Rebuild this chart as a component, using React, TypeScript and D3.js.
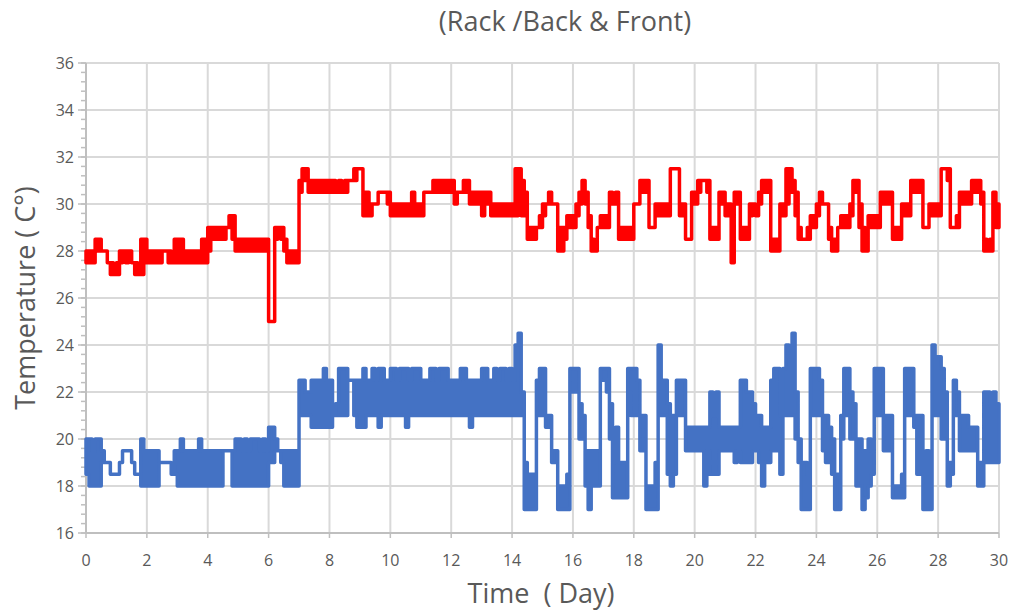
import React from 'react';
import * as d3 from 'd3';

// Logger readings are summarised per interval of DAY_STEP days:
// each entry is [lowest, highest] temperature (°C) seen in that interval.
const DAY_STEP = 0.1;

// Rack back, one row per day (10 intervals per day)
const rackBack: [number, number][] = [
  [27.5, 28], [27.5, 28], [27.5, 28], [28, 28.5], [28, 28.5], [28, 28], [28, 28], [27.5, 27.5], [27, 27.5], [27, 27],
  [27, 27.5], [27.5, 28], [28, 28], [27.5, 28], [28, 28], [27.5, 27.5], [27, 27.5], [27, 27], [27, 28.5], [28, 28.5],
  [27.5, 28], [27.5, 28], [27.5, 28], [27.5, 28], [27.5, 28], [28, 28], [28, 28], [27.5, 28], [27.5, 27.5], [27.5, 28.5],
  [27.5, 28.5], [27.5, 28.5], [27.5, 28], [27.5, 28], [27.5, 28], [27.5, 28], [27.5, 28], [27.5, 28], [27.5, 28.5], [27.5, 28.5],
  [28, 29], [28.5, 29], [28.5, 29], [28.5, 29], [28.5, 29], [28.5, 29], [29, 29], [29, 29.5], [28.5, 29.5], [28, 28.5],
  [28, 28.5], [28, 28.5], [28, 28.5], [28, 28.5], [28, 28.5], [28, 28.5], [28, 28.5], [28, 28.5], [28, 28.5], [28, 28.5],
  [25, 25], [25, 25], [28.5, 29], [29, 29], [28.5, 29], [28, 28.5], [27.5, 28], [27.5, 28], [27.5, 28], [27.5, 28],
  [30.5, 31], [31, 31.5], [31, 31.5], [30.5, 31], [30.5, 31], [30.5, 31], [30.5, 31], [30.5, 31], [30.5, 31], [30.5, 31],
  [30.5, 31], [30.5, 31], [30.5, 30.5], [30.5, 31], [30.5, 30.5], [30.5, 31], [31, 31], [31, 31], [31, 31.5], [31.5, 31.5],
  [31.5, 31.5], [29.5, 30.5], [29.5, 30.5], [29.5, 30], [30, 30], [30, 30], [30.5, 30.5], [30.5, 30.5], [30.5, 30.5], [30, 30.5],
  [29.5, 30], [29.5, 30], [29.5, 30], [29.5, 30], [29.5, 30], [29.5, 30], [29.5, 30], [29.5, 30.5], [29.5, 30], [29.5, 30],
  [29.5, 30], [30.5, 30.5], [30.5, 30.5], [30.5, 30.5], [30.5, 31], [30.5, 31], [30.5, 31], [30.5, 31], [30.5, 31], [30.5, 31],
  [30.5, 31], [30, 30.5], [30.5, 30.5], [30.5, 30.5], [30.5, 31], [30.5, 31], [30, 30.5], [30, 30.5], [30, 30.5], [30, 30.5],
  [29.5, 30.5], [30, 30.5], [30, 30.5], [29.5, 30], [29.5, 30], [29.5, 30], [29.5, 30], [29.5, 30], [29.5, 30], [29.5, 30],
  [29.5, 30], [29.5, 31.5], [30, 31.5], [29.5, 31], [30.5, 30.5], [28.5, 29], [28.5, 29], [28.5, 29], [29, 29], [29, 29.5],
  [29.5, 30], [30, 30], [30, 30.5], [30, 30], [30, 30], [28, 29], [28, 29], [28.5, 29], [29, 29.5], [29, 29.5],
  [29, 29.5], [29.5, 30], [30, 30.5], [30.5, 31], [30, 30.5], [29, 29.5], [28, 28.5], [28, 28], [29, 29], [29, 29.5],
  [29, 29.5], [29, 29.5], [30, 30.5], [30, 30], [30, 30.5], [28.5, 29], [28.5, 29], [28.5, 29], [28.5, 29], [28.5, 29],
  [30, 30], [30, 30], [30.5, 31], [30.5, 31], [30.5, 31], [29, 29], [29, 29], [29.5, 30], [29.5, 30], [29.5, 30],
  [29.5, 30], [29.5, 30], [31.5, 31.5], [31.5, 31.5], [31.5, 31.5], [29.5, 30], [29.5, 30], [28.5, 28.5], [28.5, 28.5], [30, 30.5],
  [30, 30.5], [30.5, 31], [31, 31], [31, 31], [30.5, 31], [28.5, 29], [28.5, 29], [28.5, 29], [30, 30.5], [30, 30.5],
  [29.5, 30], [29.5, 30], [27.5, 27.5], [30, 30.5], [30.5, 30.5], [28.5, 29], [28.5, 29], [28.5, 29], [29.5, 30], [30, 30],
  [29.5, 29.5], [30, 30.5], [30.5, 31], [30.5, 31], [30.5, 31], [28, 28.5], [28, 28.5], [28, 28.5], [29.5, 30], [29.5, 30],
  [30, 31.5], [31, 31.5], [30.5, 31], [29.5, 30.5], [28.5, 29], [28.5, 28.5], [28.5, 28.5], [28.5, 29], [29, 29.5], [29, 29.5],
  [29.5, 30], [30, 30.5], [30, 30], [30, 30], [28.5, 29], [28, 28.5], [28, 28.5], [29, 29], [29, 29.5], [29, 29.5],
  [29, 29.5], [29.5, 30], [30.5, 31], [30.5, 31], [29, 30], [28, 29], [28, 28.5], [29, 29.5], [29, 29.5], [29, 29.5],
  [29, 29.5], [30, 30.5], [30, 30.5], [30, 30.5], [30, 30.5], [28.5, 29], [28.5, 29], [28.5, 29], [29.5, 30], [29.5, 30],
  [29.5, 30], [30.5, 31], [30.5, 31], [30.5, 31], [30.5, 31], [29, 29], [29, 29], [29.5, 30], [29.5, 30], [29.5, 30],
  [29.5, 30], [31.5, 31.5], [31.5, 31.5], [31, 31.5], [29, 29], [29, 29], [29, 29.5], [30, 30.5], [30, 30.5], [30, 30.5],
  [30, 30.5], [30.5, 31], [30.5, 31], [30.5, 31], [30, 30.5], [28, 28.5], [28, 28], [28, 28.5], [29.5, 30.5], [29, 30],
  [29, 29],
];

// Rack front, same intervals
const rackFront: [number, number][] = [
  [18.5, 20], [18, 20], [18, 19.5], [18, 20], [18, 20], [19, 19.5], [19, 19], [19, 19], [18.5, 18.5], [18.5, 18.5],
  [18.5, 18.5], [19, 19], [19.5, 19.5], [19.5, 19.5], [19.5, 19.5], [19, 19], [18.5, 18.5], [18.5, 18.5], [18, 20], [18, 19.5],
  [18, 19.5], [18, 19.5], [18, 19.5], [18, 19.5], [19, 19], [19, 19], [19, 19], [19, 19], [18.5, 18.5], [18.5, 19.5],
  [18, 19.5], [18, 20], [18, 19.5], [18, 19.5], [18, 19.5], [18, 19.5], [18, 19.5], [18, 20], [18, 19.5], [18, 19.5],
  [18, 19.5], [18, 19.5], [18, 19.5], [18, 19.5], [18, 19.5], [19.5, 19.5], [19.5, 19.5], [19.5, 19.5], [18, 19.5], [18, 20],
  [18, 20], [18, 19.5], [18, 20], [18, 19.5], [18, 20], [18, 20], [18, 20], [18, 19.5], [18, 20], [18, 19.5],
  [19, 20.5], [19, 20.5], [19.5, 20], [19.5, 19.5], [19, 19.5], [18, 19.5], [18, 19.5], [18, 19.5], [18, 19.5], [18, 19.5],
  [21, 22.5], [21, 22.5], [21, 22], [21, 22], [20.5, 22.5], [20.5, 22.5], [20.5, 22.5], [20.5, 22.5], [20.5, 23], [20.5, 22.5],
  [20.5, 22.5], [21, 21], [21, 21.5], [21, 23], [21, 23], [21, 23], [22.5, 22.5], [22.5, 22.5], [21, 22.5], [20.5, 22.5],
  [20.5, 22.5], [20.5, 23], [21, 22.5], [21, 22.5], [21, 23], [21, 22.5], [20.5, 23], [21, 23], [21, 22.5], [21, 22.5],
  [21, 23], [21, 23], [21, 22.5], [21, 23], [21, 23], [20.5, 23], [21, 22.5], [21, 23], [21, 23], [21, 23],
  [21, 22.5], [21, 22.5], [21, 22.5], [21, 23], [21, 23], [21, 22.5], [21, 23], [21, 23], [21, 23], [21, 22.5],
  [21, 22.5], [21, 22.5], [21, 22.5], [21, 23], [21, 23], [21, 22.5], [20.5, 22.5], [21, 22.5], [21, 22.5], [21, 22.5],
  [21, 23], [21, 23], [21, 22.5], [21, 22.5], [21, 23], [21, 22.5], [21, 23], [21, 23], [21, 22.5], [21, 23],
  [21, 22.5], [21, 24], [21, 24.5], [21, 22], [17, 19], [17, 18.5], [17, 18.5], [17, 18.5], [21, 22.5], [21, 23],
  [21, 23], [20.5, 21], [20.5, 21], [19, 19.5], [19, 19.5], [17, 18], [17, 18], [17, 18], [17, 18.5], [22, 23],
  [22, 23], [22, 23], [20, 21.5], [20, 21], [18, 19.5], [17, 19.5], [18, 19.5], [18, 19.5], [18, 19.5], [22.5, 23],
  [22.5, 23], [22, 23], [20, 21.5], [17.5, 19], [17.5, 20.5], [17.5, 19], [17.5, 19], [17.5, 19], [22, 23], [21, 23],
  [21, 23], [21, 22.5], [19.5, 21], [19.5, 21], [17, 18], [17, 18], [17, 18], [17, 19], [21, 24], [21, 22.5],
  [21, 22.5], [18.5, 21.5], [18, 21], [18.5, 21], [21, 22.5], [21, 22.5], [21, 22.5], [19.5, 20.5], [19.5, 20.5], [19.5, 20.5],
  [19.5, 20.5], [19.5, 20.5], [19.5, 20.5], [18, 20.5], [19.5, 20.5], [18.5, 22], [18.5, 21], [18.5, 22], [19.5, 20.5], [19.5, 20.5],
  [19.5, 20.5], [19.5, 20.5], [19.5, 20.5], [19, 20.5], [19.5, 20.5], [19, 22.5], [19, 22.5], [19, 22], [19, 22], [19.5, 21.5],
  [19.5, 21], [19, 21], [18, 20.5], [19, 20.5], [19, 20.5], [19.5, 22.5], [19.5, 23], [19.5, 23], [18.5, 21], [21, 23],
  [21, 24], [21, 23.5], [21, 24.5], [20, 22], [19, 20], [17, 19], [17, 19], [17, 18.5], [21, 23], [21, 23],
  [21, 23], [21, 22.5], [19.5, 21], [19, 21], [19, 20.5], [18.5, 20], [17, 18.5], [17, 18.5], [20, 21], [21, 23],
  [21, 23], [20, 22], [20, 21.5], [18, 20], [18, 20], [17, 19.5], [17.5, 19.5], [18, 20], [18.5, 19.5], [21, 23],
  [21, 23], [21, 23], [19.5, 21], [19.5, 21], [19.5, 21], [17.5, 18], [17.5, 18], [17.5, 18], [17.5, 18.5], [21, 23],
  [21, 23], [21, 23], [20.5, 21], [18.5, 21], [20.5, 21], [17, 18.5], [17, 19.5], [17, 18.5], [21, 24], [21, 23.5],
  [21, 23.5], [20, 23], [20, 22], [18, 19], [18.5, 19], [21, 22.5], [21, 22], [19.5, 21], [19.5, 21], [19.5, 21],
  [19.5, 20.5], [19.5, 20.5], [19.5, 20.5], [18, 19], [18, 19], [19, 22], [19, 22], [19, 21.5], [19, 22], [19, 21.5],
  [19, 21],
];

const xTicks = [0, 2, 4, 6, 8, 10, 12, 14, 16, 18, 20, 22, 24, 26, 28, 30];
const yTicks = [16, 18, 20, 22, 24, 26, 28, 30, 32, 34, 36];

const FONT = "'Open Sans', 'Noto Sans', sans-serif";
const TEXT = '#595959';
const GRID = '#d9d9d9';
const AXIS = '#bfbfbf';

export default function App() {
  const width = 1014;
  const height = 615;

  const x = d3.scaleLinear().domain([0, 30]).range([86, 999]);
  const y = d3.scaleLinear().domain([16, 36]).range([533, 63]);

  // Each interval is drawn as a band from its lowest to highest reading;
  // intervals with a single reading collapse to a plain stepped line.
  const band = d3
    .area<[number, number]>()
    .x((_, i) => x(i * DAY_STEP))
    .y0((d) => y(d[0]))
    .y1((d) => y(d[1]))
    .curve(d3.curveStepAfter);

  const minorY = d3.range(16, 36.001, 0.4);

  const [x0, x1] = x.range();
  const [yb, yt] = y.range();

  const series = [
    { name: 'Rack back', data: rackBack, color: '#ff0000' },
    { name: 'Rack front', data: rackFront, color: '#4472c4' },
  ];

  return (
    <svg
      width={width}
      height={height}
      style={{ position: 'absolute', left: 0, top: 0, background: '#fff' }}
      fontFamily={FONT}
    >
      {/* gridlines */}
      {yTicks.map((t) => (
        <line key={'gy' + t} x1={x0} x2={x1} y1={y(t)} y2={y(t)} stroke={GRID} strokeWidth={2} />
      ))}
      {xTicks.map((t) => (
        <line key={'gx' + t} x1={x(t)} x2={x(t)} y1={yt} y2={yb} stroke={GRID} strokeWidth={2} />
      ))}

      {/* axes */}
      <line x1={x0} x2={x0} y1={yt} y2={yb} stroke={AXIS} strokeWidth={2} />
      <line x1={x0} x2={x1} y1={yb} y2={yb} stroke={AXIS} strokeWidth={2} />
      {minorY.map((t, i) => (
        <line key={'my' + i} x1={x0 - 5} x2={x0} y1={y(t)} y2={y(t)} stroke={AXIS} strokeWidth={1.5} />
      ))}
      {yTicks.map((t) => (
        <line key={'ty' + t} x1={x0 - 8} x2={x0} y1={y(t)} y2={y(t)} stroke={AXIS} strokeWidth={1.5} />
      ))}
      {xTicks.map((t) => (
        <line key={'tx' + t} x1={x(t)} x2={x(t)} y1={yb} y2={yb + 5} stroke={AXIS} strokeWidth={1.5} />
      ))}

      {/* tick labels */}
      {yTicks.map((t) => (
        <text key={'ly' + t} x={x0 - 12} y={y(t)} dy="0.35em" textAnchor="end" fontSize={16} fill={TEXT}>
          {t}
        </text>
      ))}
      {xTicks.map((t) => (
        <text key={'lx' + t} x={x(t)} y={566} textAnchor="middle" fontSize={16} fill={TEXT}>
          {t}
        </text>
      ))}

      {/* series */}
      {series.map((s) => (
        <path
          key={s.name}
          d={band(s.data) ?? ''}
          fill={s.color}
          stroke={s.color}
          strokeWidth={3.5}
          strokeLinejoin="round"
        />
      ))}

      {/* titles */}
      <text x={565} y={31} textAnchor="middle" fontSize={27} fill={TEXT}>
        (Rack /Back &amp; Front)
      </text>
      <text x={541} y={603} textAnchor="middle" fontSize={27} fill={TEXT} style={{ whiteSpace: 'pre' }}>
        {'Time  ( Day)'}
      </text>
      <text
        transform={`translate(35, ${(yt + yb) / 2}) rotate(-90)`}
        textAnchor="middle"
        fontSize={27}
        fill={TEXT}
      >
        Temperature ( C°)
      </text>
    </svg>
  );
}
